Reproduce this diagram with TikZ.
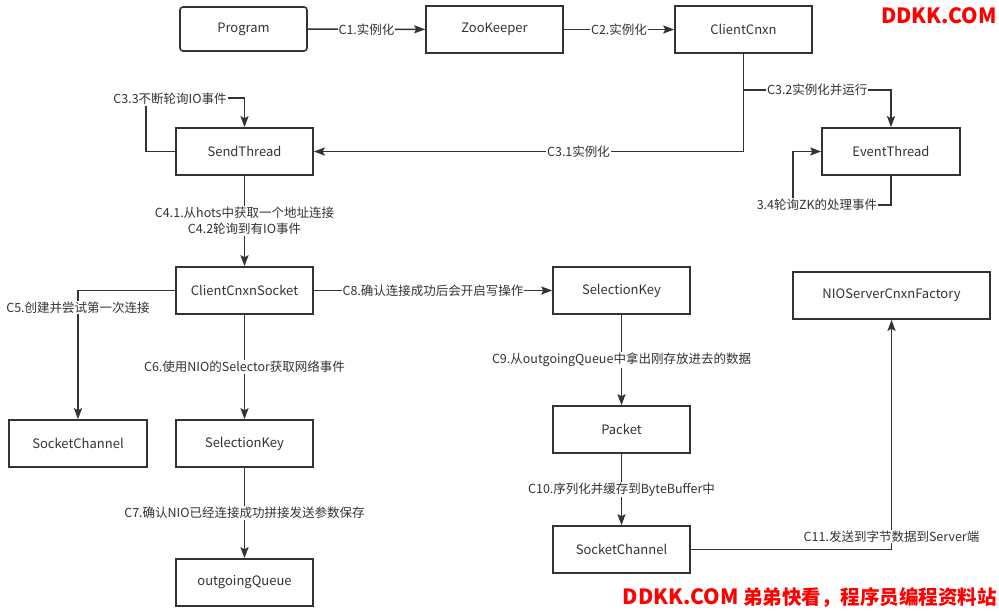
\documentclass[tikz,border=0pt]{standalone}
\usepackage{fontspec}
\setmainfont{Noto Sans CJK SC}
\usetikzlibrary{arrows.meta,positioning}
\definecolor{ink}{HTML}{333333}
\definecolor{wm}{HTML}{FF0000}
\tikzset{
  box/.style={draw=ink,line width=1.6pt,fill=white,minimum width=137pt,minimum height=47pt,inner sep=0pt,font=\fontsize{13}{15}\selectfont,text=ink},
  arr/.style={draw=ink,line width=1.6pt,-{Stealth[length=11pt,width=8pt,inset=2pt]}},
  lbl/.style={fill=white,inner sep=1pt,font=\fontsize{12.5}{15}\selectfont,text=ink},
  wmark/.style={text=wm,font=\fontsize{21}{24}\selectfont\bfseries,inner sep=0pt}
}
\begin{document}
\begin{tikzpicture}[x=1pt,y=-1pt]
\useasboundingbox (0,0) rectangle (999,611);
% nodes
\node[box,rounded corners=3pt,minimum width=127pt,minimum height=44pt] (prog) at (243.5,29) {Program};
\node[box] (zk) at (494.5,29.5) {ZooKeeper};
\node[box] (cc) at (743.5,29.5) {ClientCnxn};
\node[box] (st) at (244.5,151.5) {SendThread};
\node[box,minimum width=138pt] (et) at (891,151.5) {EventThread};
\node[box] (ccs) at (244.5,290.5) {ClientCnxnSocket};
\node[box,minimum width=138pt] (scl) at (78,443.5) {SocketChannel};
\node[box] (skl) at (244.5,443.5) {SelectionKey};
\node[box] (oq) at (244.5,582.5) {outgoingQueue};
\node[box] (skr) at (621.5,290.5) {SelectionKey};
\node[box,minimum width=197pt] (nio) at (891.5,295.5) {NIOServerCnxnFactory};
\node[box] (pk) at (621.5,429.5) {Packet};
\node[box] (scr) at (621.5,549.5) {SocketChannel};
% helper coordinates
\coordinate (b32) at (743.5,90);
\coordinate (l33) at (146,98);
\coordinate (l34) at (793,205);
% connectors
\draw[arr] (prog) -- node[lbl]{C1.实例化} (zk);
\draw[arr] (zk) -- node[lbl]{C2.实例化} (cc);
\draw[arr] (cc.south) |- node[lbl,pos=0.692]{C3.1实例化} (st.east);
\draw[arr] (b32) -| node[lbl,pos=0.25]{C3.2实例化并运行} (et.north);
\draw[arr] (st.west) -| (l33) -| (st.north);
\node[lbl] (t33) at (170,99) {C3.3不断轮询IO事件};
\draw[arr] (et.south) |- (l34) |- (et.west);
\node[lbl] (t34) at (817,205) {3.4轮询ZK的处理事件};
\draw[arr] (st) -- node[lbl,align=center,font=\fontsize{12.5}{15.5}\selectfont]{C4.1.从hots中获取一个地址连接\\C4.2轮询到有IO事件} (ccs);
\draw[arr] (ccs.west) -| node[lbl,pos=0.566]{C5.创建并尝试第一次连接} (scl.north);
\draw[arr] (ccs) -- node[lbl]{C6.使用NIO的Selector获取网络事件} (skl);
\draw[arr] (skl) -- node[lbl]{C7.确认NIO已经连接成功拼接发送参数保存} (oq);
\draw[arr] (ccs) -- node[lbl]{C8.确认连接成功后会开启写操作} (skr);
\draw[arr] (skr) -- node[lbl]{C9.从outgoingQueue中拿出刚存放进去的数据} (pk);
\draw[arr] (pk) -- node[lbl]{C10.序列化并缓存到ByteBuffer中} (scr);
\draw[arr] (scr.east) -| node[lbl,pos=0.528]{C11.发送到字节数据到Server端} (nio.south);
% watermarks
\node[wmark,anchor=east] (w1) at (997,15.5) {DDKK.COM};
\node[wmark,anchor=east] (w2) at (997,598) {DDKK.COM {\fontsize{19.5}{24}\selectfont 弟弟快看，程序员编程资料站}};
\end{tikzpicture}
\end{document}
